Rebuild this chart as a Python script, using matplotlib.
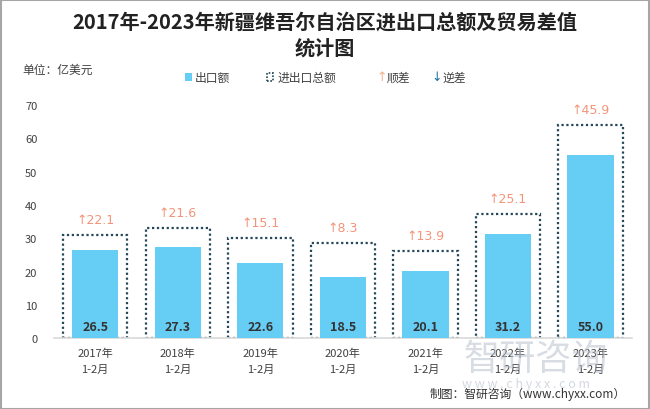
import matplotlib
matplotlib.use("Agg")
import matplotlib.pyplot as plt
from matplotlib.patches import Rectangle

plt.rcParams['font.family'] = ['Noto Sans CJK SC', 'DejaVu Sans']

categories = ["2017年\n1-2月", "2018年\n1-2月", "2019年\n1-2月", "2020年\n1-2月",
              "2021年\n1-2月", "2022年\n1-2月", "2023年\n1-2月"]
exports = [26.5, 27.3, 22.6, 18.5, 20.1, 31.2, 55.0]
totals = [30.9, 33.0, 30.1, 28.7, 26.3, 37.3, 64.1]
balance = [22.1, 21.6, 15.1, 8.3, 13.9, 25.1, 45.9]
yticks = [0, 10, 20, 30, 40, 50, 60, 70]

BAR_COLOR = '#66cdf4'
BOX_COLOR = '#24475a'
UP_COLOR = '#f29479'
DOWN_COLOR = '#1f6f9f'
TXT = '#404040'

fig = plt.figure(figsize=(6.5, 4.1), dpi=100)
ax = fig.add_axes([0.083, 0.173, 0.889, 0.568])

x = list(range(len(categories)))
ax.bar(x, totals, width=0.78, facecolor='none', edgecolor=BOX_COLOR,
       linewidth=1.6, linestyle=(0, (1, 1.2)), zorder=2)
ax.bar(x, exports, width=0.56, color=BAR_COLOR, zorder=3)

for xi, e in zip(x, exports):
    ax.text(xi, 3.6, f"{e:.1f}", ha='center', va='center', fontsize=9,
            fontweight='bold', color='#333333', zorder=4)
for xi, t, b in zip(x, totals, balance):
    arrow = '↑' if b >= 0 else '↓'
    col = UP_COLOR if b >= 0 else DOWN_COLOR
    ax.text(xi, t + 4.6, f"{arrow}{abs(b):.1f}", ha='center', va='center',
            fontsize=9, color=col, family=['DejaVu Sans'])

ax.set_xlim(-0.5, 6.5)
ax.set_ylim(0, 70)
ax.set_yticks(yticks)
ax.set_xticks(x)
ax.set_xticklabels(categories, fontsize=8, color=TXT, linespacing=1.7)
ax.tick_params(axis='y', length=0, pad=12, labelsize=8, labelcolor=TXT)
ax.tick_params(axis='x', length=0, pad=7)
for s in ['left', 'right', 'top']:
    ax.spines[s].set_visible(False)
ax.spines['bottom'].set_color('#d9d9d9')
ax.spines['bottom'].set_linewidth(1.2)

# Title
fig.text(0.5, 0.947, "2017年-2023年新疆维吾尔自治区进出口总额及贸易差值", ha='center', va='center',
         fontsize=14.5, fontweight='bold', color='#222222')
fig.text(0.5, 0.883, "统计图", ha='center', va='center',
         fontsize=14.5, fontweight='bold', color='#222222')
fig.text(0.034, 0.829, "单位：亿美元", ha='left', va='center', fontsize=8.5, color=TXT)

# Legend
ly = 1 - 78 / 410
fig.patches.append(Rectangle((185 / 650, ly - 4 / 410), 7 / 650, 8 / 410,
                             transform=fig.transFigure, facecolor=BAR_COLOR, edgecolor='none'))
fig.text(195 / 650, ly, "出口额", ha='left', va='center', fontsize=8.5, color=TXT)
fig.patches.append(Rectangle((267 / 650, ly - 4 / 410), 6 / 650, 8 / 410,
                             transform=fig.transFigure, facecolor='none', edgecolor=BOX_COLOR,
                             linewidth=1.2, linestyle=(0, (1, 1))))
fig.text(278 / 650, ly, "进出口总额", ha='left', va='center', fontsize=8.5, color=TXT)
fig.text(376 / 650, ly, "↑", ha='left', va='center', fontsize=9, color='#f4b08a',
         family=['DejaVu Sans'])
fig.text(387 / 650, ly, "顺差", ha='left', va='center', fontsize=8.5, color=TXT)
fig.text(431 / 650, ly, "↓", ha='left', va='center', fontsize=9, color=DOWN_COLOR,
         family=['DejaVu Sans'])
fig.text(442 / 650, ly, "逆差", ha='left', va='center', fontsize=8.5, color=TXT)

# Watermark
fig.text(0.825, 1 - 360 / 410, "智研咨询", ha='center', va='center', fontsize=26,
         color='#b8c0cc', alpha=0.55)
fig.text(0.81, 1 - 385 / 410, "w w w . c h y x x . c o m", ha='center', va='center', fontsize=9,
         color='#b8c0cc', alpha=0.6)
fig.text(0.962, 1 - 394 / 410, "制图：智研咨询（www.chyxx.com）", ha='right', va='center',
         fontsize=8.5, color='#333333')

fig.patches.append(Rectangle((0.001, 0.001), 0.998, 0.997, transform=fig.transFigure,
                             facecolor='none', edgecolor='#a6a6a6', linewidth=1.5))

fig.savefig("out.png", dpi=100)
